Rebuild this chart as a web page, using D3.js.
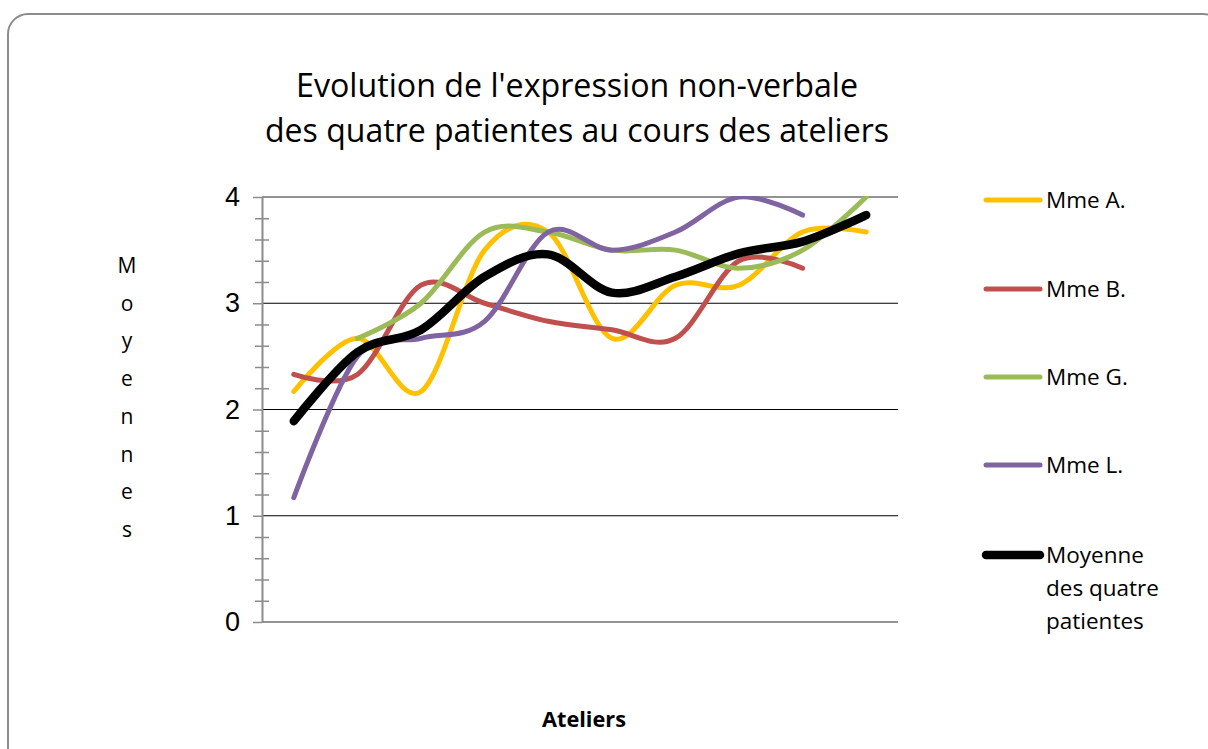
<!DOCTYPE html>
<html><head><meta charset="utf-8">
<script src="https://cdn.jsdelivr.net/npm/d3@7"></script>
<style>body{margin:0;background:#fff}svg{display:block}</style>
</head><body>
<script>
const categories = ["1","2","3","4","5","6","7","8","9","10"];
const mmeA = [2.17, 2.67, 2.17, 3.5, 3.67, 2.67, 3.17, 3.17, 3.67, 3.67];
const mmeB = [2.33, 2.33, 3.17, 3.0, 2.83, 2.75, 2.67, 3.4, 3.33, null];
const mmeG = [null, 2.67, 3.0, 3.67, 3.67, 3.5, 3.5, 3.33, 3.5, 4.0];
const mmeL = [1.17, 2.5, 2.67, 2.83, 3.67, 3.5, 3.67, 4.0, 3.83, null];
const moyenne = [1.89, 2.54, 2.75, 3.25, 3.46, 3.1, 3.25, 3.47, 3.58, 3.83];
const seriesNames = ["Mme A.", "Mme B.", "Mme G.", "Mme L.", "Moyenne des quatre patientes"];
const seriesColors = ["#FFC000", "#C0504D", "#9BBB59", "#8064A2", "#000000"];
const yTicks = [0, 1, 2, 3, 4];
const titleLines = ["Evolution de l'expression non-verbale", "des quatre patientes au cours des ateliers"];
const yTitle = "Moyennes";
const xTitle = "Ateliers";

const W = 1208, H = 749;
const svg = d3.select("body").append("svg").attr("width", W).attr("height", H);

svg.append("rect").attr("x", 8).attr("y", 14).attr("width", 1215).attr("height", 760)
  .attr("rx", 20).attr("fill", "#fff").attr("stroke", "#8c8c8c").attr("stroke-width", 2);

const L = 262, R = 898, T = 197, B = 622;
const x = d3.scaleBand().domain(categories).range([L, R]);
const y = d3.scaleLinear().domain([0, 4]).range([B, T]);
const cx = c => x(c) + x.bandwidth() / 2;

// title
const tl = [[577, 97, 562], [577, 142, 624]];
titleLines.forEach((t, i) => {
  svg.append("text").attr("x", tl[i][0]).attr("y", tl[i][1]).attr("text-anchor", "middle")
    .attr("font-family", "'Open Sans', sans-serif").attr("font-size", 33)
    .attr("textLength", tl[i][2]).attr("lengthAdjust", "spacingAndGlyphs")
    .attr("fill", "#000").text(t);
});

// gridlines
svg.append("g").selectAll("line").data([1, 2, 3]).join("line")
  .attr("x1", L).attr("x2", R).attr("y1", d => y(d)).attr("y2", d => y(d))
  .attr("stroke", "#000").attr("stroke-width", 1.2);
svg.append("line").attr("x1", L).attr("x2", R).attr("y1", y(4)).attr("y2", y(4))
  .attr("stroke", "#6f6f6f").attr("stroke-width", 1.5);
svg.append("line").attr("x1", L).attr("x2", R).attr("y1", y(0)).attr("y2", y(0))
  .attr("stroke", "#6f6f6f").attr("stroke-width", 1.5);

// minor ticks
const minor = d3.range(0, 4.001, 0.2).filter(v => Math.abs(v - Math.round(v)) > 1e-6);
const minorAxis = d3.axisLeft(y).tickValues(minor).tickSize(7).tickSizeOuter(0).tickFormat("");
const gMinor = svg.append("g").attr("transform", `translate(${L},0)`).call(minorAxis);
gMinor.select(".domain").remove();
gMinor.selectAll(".tick line").attr("stroke", "#8c8c8c").attr("stroke-width", 1.5).attr("x2", -7).attr("x1", 7);

// major axis
const yAxis = d3.axisLeft(y).tickValues(yTicks).tickSize(9).tickSizeOuter(0).tickPadding(13).tickFormat(d3.format("d"));
const gY = svg.append("g").attr("transform", `translate(${L},0)`).call(yAxis);
gY.select(".domain").attr("stroke", "#8c8c8c").attr("stroke-width", 2);
gY.selectAll(".tick line").attr("stroke", "#8c8c8c").attr("stroke-width", 1.5);
gY.selectAll(".tick text").attr("font-family", "'Liberation Sans', Arial, sans-serif")
  .attr("font-size", 27).attr("fill", "#000");

// y title stacked letters
yTitle.split("").forEach((ch, i) => {
  svg.append("text").attr("x", 127).attr("y", 273 + i * 37.7).attr("text-anchor", "middle")
    .attr("font-family", "'Open Sans', sans-serif").attr("font-size", 21).attr("fill", "#000").text(ch);
});

// x title
svg.append("text").attr("x", 584).attr("y", 727).attr("text-anchor", "middle")
  .attr("font-family", "'Open Sans', sans-serif").attr("font-weight", "bold").attr("font-size", 21)
  .attr("textLength", 84).attr("lengthAdjust", "spacingAndGlyphs").text(xTitle);

// clip
svg.append("clipPath").attr("id", "plotclip").append("rect")
  .attr("x", L).attr("y", T - 1).attr("width", R - L + 10).attr("height", B - T + 1);

const allSeries = [mmeA, mmeB, mmeG, mmeL, moyenne];
const line = d3.line().x(d => cx(d.c)).y(d => y(d.v)).curve(d3.curveCatmullRom.alpha(0));
const gLines = svg.append("g").attr("clip-path", "url(#plotclip)");
allSeries.forEach((vals, i) => {
  const pts = categories.map((c, j) => ({c, v: vals[j]})).filter(d => d.v != null);
  gLines.append("path").datum(pts).attr("d", line).attr("fill", "none")
    .attr("stroke", seriesColors[i]).attr("stroke-width", i === 4 ? 8.5 : 5)
    .attr("stroke-linecap", "round").attr("stroke-linejoin", "round");
});

// legend
const legY = [200, 289, 377, 465, 555];
seriesNames.forEach((name, i) => {
  svg.append("line").attr("x1", 986).attr("x2", 1040).attr("y1", legY[i]).attr("y2", legY[i])
    .attr("stroke", seriesColors[i]).attr("stroke-width", i === 4 ? 8.5 : 5).attr("stroke-linecap", "round");
  const parts = i === 4 ? ["Moyenne", "des quatre", "patientes"] : [name];
  parts.forEach((p, k) => {
    svg.append("text").attr("x", 1046).attr("y", legY[i] + 8 + k * 33)
      .attr("font-family", "'Open Sans', sans-serif").attr("font-size", 22.5).attr("fill", "#000").text(p);
  });
});
</script>
</body></html>
